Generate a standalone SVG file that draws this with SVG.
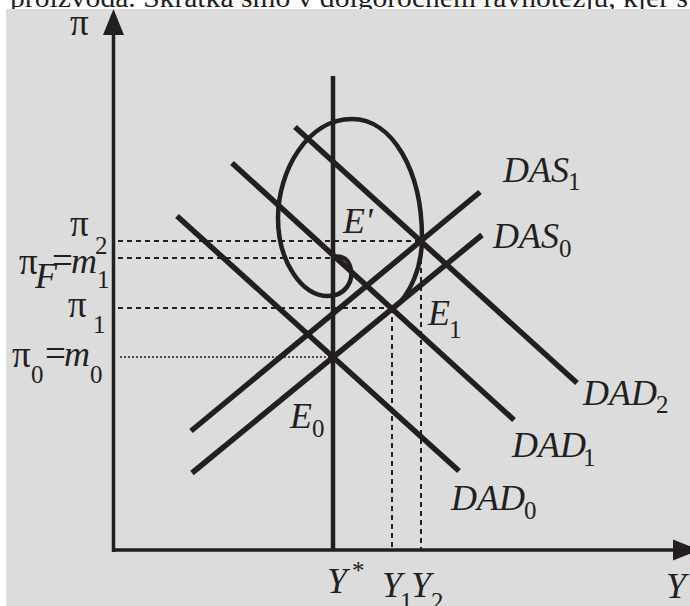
<svg xmlns="http://www.w3.org/2000/svg" width="690" height="606" viewBox="0 0 690 606">
<style>
.ln{stroke:#231f20;fill:none;stroke-linecap:butt}
.th{stroke-width:5.5}
.ax{stroke-width:3.5}
.dash{stroke:#231f20;stroke-width:2;stroke-dasharray:5 4;fill:none}
.dot{stroke:#231f20;stroke-width:1.6;stroke-dasharray:2 2;fill:none}
.lb{font-family:"Liberation Serif","Times New Roman",serif;font-style:italic;font-size:36px;fill:#231f20}
.sb{font-family:"Liberation Serif","Times New Roman",serif;font-style:normal;font-size:25px;fill:#231f20}
.pi{font-family:"Liberation Serif","Times New Roman",serif;font-style:normal;font-size:37px;fill:#231f20}
</style>
<rect x="0" y="0" width="690" height="606" fill="#ffffff"/>
<text x="10" y="7" font-family="Liberation Serif, serif" font-size="28" fill="#231f20" textLength="678" lengthAdjust="spacingAndGlyphs">proizvoda. Skratka smo v dolgoročnem ravnotežju, kjer s</text>
<rect x="6" y="9" width="684" height="597" fill="#dcdcdc"/>

<g id="axes">
  <line class="ln ax" x1="113.5" y1="30" x2="113.5" y2="552"/>
  <polygon points="113.5,9 103,35 124,35" fill="#231f20"/>
  <line class="ln ax" x1="112" y1="550" x2="678" y2="550"/>
  <polygon points="699,550 673,539.5 673,560.5" fill="#231f20"/>
</g>

<g id="guides">
  <line class="dash" x1="118" y1="241" x2="420" y2="241"/>
  <line class="dash" x1="118" y1="258" x2="333" y2="258"/>
  <line class="dash" x1="118" y1="308" x2="393" y2="308"/>
  <line class="dot" x1="120" y1="357" x2="333" y2="357"/>
  <line class="dash" x1="392" y1="308" x2="392" y2="549"/>
  <line class="dash" x1="421" y1="241" x2="421" y2="549"/>
</g>

<g id="connectors">
  <line id="Ystar" class="ln" stroke-width="4.5" x1="333" y1="76" x2="333" y2="550"/>
  <line id="DAD0-line" class="ln th" x1="177" y1="216" x2="459" y2="471"/>
  <line id="DAD1-line" class="ln th" x1="232" y1="163" x2="514" y2="420"/>
  <line id="DAD2-line" class="ln th" x1="295" y1="127" x2="577" y2="383"/>
  <line id="DAS0-line" class="ln th" x1="192" y1="473" x2="482" y2="235"/>
  <line id="DAS1-line" class="ln th" x1="191" y1="431" x2="480" y2="192"/>
  <path id="spiral" class="ln" stroke-width="4.5" d="M393,309 C410,295 422,268 422,238 C422,170 392,119 352,119 C308,119 278,170 278,218 C278,262 302,296 328,296 C345,296 353,282 351,270 C349,259 342,255 334,257"/>
</g>

<g id="labels">
  <text class="pi" x="70" y="35">π</text>
  <g id="pi2"><text class="pi" x="70" y="236">π</text><text class="sb" x="95" y="254">2</text></g>
  <g id="piF"><text class="pi" x="19" y="274">π</text><text class="lb" font-size="29" x="35" y="288">F</text><text class="pi" x="52" y="273">=</text><text class="lb" x="71" y="273">m</text><text class="sb" x="97" y="288">1</text></g>
  <g id="pi1"><text class="pi" x="68" y="317">π</text><text class="sb" x="93" y="333">1</text></g>
  <g id="pi0"><text class="pi" x="12" y="367">π</text><text class="sb" x="31" y="383">0</text><text class="pi" x="45" y="366">=</text><text class="lb" x="64" y="366">m</text><text class="sb" x="90" y="383">0</text></g>

  <g id="DAS1"><text class="lb" x="503" y="182">DAS</text><text class="sb" x="568" y="190">1</text></g>
  <g id="DAS0"><text class="lb" x="493" y="248">DAS</text><text class="sb" x="559" y="257">0</text></g>
  <g id="DAD2"><text class="lb" x="583" y="405">DAD</text><text class="sb" x="656" y="413">2</text></g>
  <g id="DAD1"><text class="lb" x="512" y="457">DAD</text><text class="sb" x="583" y="466">1</text></g>
  <g id="DAD0"><text class="lb" x="451" y="510">DAD</text><text class="sb" x="524" y="519">0</text></g>

  <g id="Eprime"><text class="lb" x="343" y="233">E'</text></g>
  <g id="E1"><text class="lb" x="428" y="325">E</text><text class="sb" x="449" y="338">1</text></g>
  <g id="E0"><text class="lb" x="290" y="428">E</text><text class="sb" x="312" y="437">0</text></g>

  <g id="Ystar-lbl"><text class="lb" x="327" y="593">Y</text><text class="sb" x="352" y="579">*</text></g>
  <g id="Y1"><text class="lb" x="382" y="597">Y</text><text class="sb" x="400" y="610">1</text></g>
  <g id="Y2"><text class="lb" x="411" y="597">Y</text><text class="sb" x="431" y="610">2</text></g>
  <g id="Yaxis"><text class="lb" x="666" y="598">Y</text></g>
</g>
</svg>
